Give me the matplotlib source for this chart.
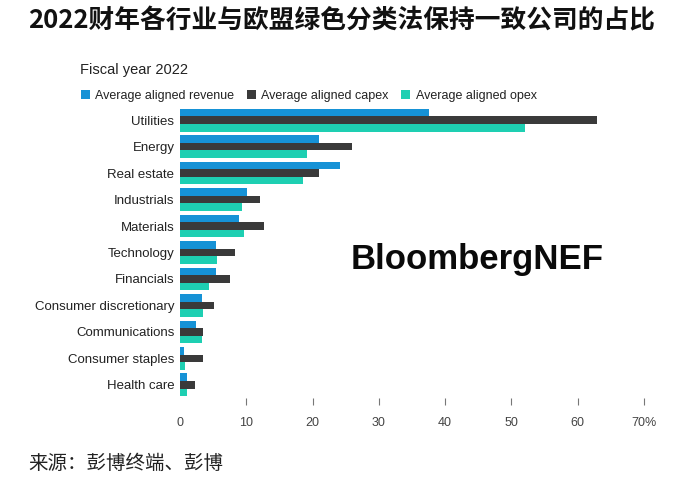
import matplotlib
matplotlib.use('Agg')
import matplotlib.pyplot as plt
from matplotlib.patches import Patch
import numpy as np

plt.rcParams['font.family'] = ['Liberation Sans', 'DejaVu Sans']

sectors = ['Utilities', 'Energy', 'Real estate', 'Industrials', 'Materials',
           'Technology', 'Financials', 'Consumer discretionary',
           'Communications', 'Consumer staples', 'Health care']
revenue = [37.6, 21.0, 24.1, 10.1, 8.9, 5.5, 5.5, 3.3, 2.4, 0.6, 1.0]
capex = [62.9, 26.0, 20.9, 12.0, 12.7, 8.3, 7.5, 5.1, 3.5, 3.4, 2.2]
opex = [52.0, 19.1, 18.5, 9.4, 9.7, 5.6, 4.4, 3.4, 3.3, 0.8, 1.1]
series_names = ['Average aligned revenue', 'Average aligned capex', 'Average aligned opex']
colors = ['#1692d6', '#3a3a3a', '#1ecfb2']
xticks = [0, 10, 20, 30, 40, 50, 60, 70]
xticklabels = ['0', '10', '20', '30', '40', '50', '60', '70%']

fig = plt.figure(figsize=(7, 4.91), dpi=100)
ax = fig.add_axes([180/700, 1 - 398/491, (644 - 180)/700, 291/491])

y = np.arange(len(sectors))
h = 0.285
for i, (vals, c) in enumerate(zip([revenue, capex, opex], colors)):
    ax.barh(y + (i - 1) * h, vals, height=h, color=c, label=series_names[i])

ax.set_ylim(len(sectors) - 0.5, -0.5)
ax.set_xlim(0, 70)
ax.set_yticks(y)
ax.set_yticklabels(sectors, fontsize=9.5, color='#222222')
ax.tick_params(axis='y', length=0, pad=4)
ax.set_xticks(xticks)
ax.set_xticklabels(xticklabels, fontsize=9, color='#444444')
ax.tick_params(axis='x', direction='out', length=5, width=0.8, color='#777777', pad=9)
# no tick mark at zero in the original
ax.xaxis.get_major_ticks()[0].tick1line.set_visible(False)
for s in ax.spines.values():
    s.set_visible(False)

fig.text(28/700, 1 - 21/491, '2022财年各行业与欧盟绿色分类法保持一致公司的占比',
         family=['Noto Sans CJK SC', 'DejaVu Sans'], fontsize=18.5, fontweight='bold',
         va='center', ha='left', color='#111111')
fig.text(80/700, 1 - 70/491, 'Fiscal year 2022', fontsize=10.5, va='center', color='#222222')

handles = [Patch(facecolor=c, edgecolor='none') for c in colors]
fig.legend(handles, series_names, loc='center left', bbox_to_anchor=(81/700, 1 - 96/491),
           ncol=3, frameon=False, fontsize=9, handlelength=0.7, handleheight=0.7,
           handletextpad=0.45, columnspacing=1.0, borderaxespad=0, borderpad=0,
           labelcolor='#222222')

fig.text(477/700, 1 - 260/491, 'BloombergNEF', fontsize=25, fontweight='bold',
         ha='center', va='center', color='#0a0a0a')

fig.text(28/700, 1 - 463/491, '来源：彭博终端、彭博', family=['Noto Sans CJK SC', 'DejaVu Sans'],
         fontsize=14, style='italic', va='center', color='#222222')

fig.savefig('out.png', dpi=100)
